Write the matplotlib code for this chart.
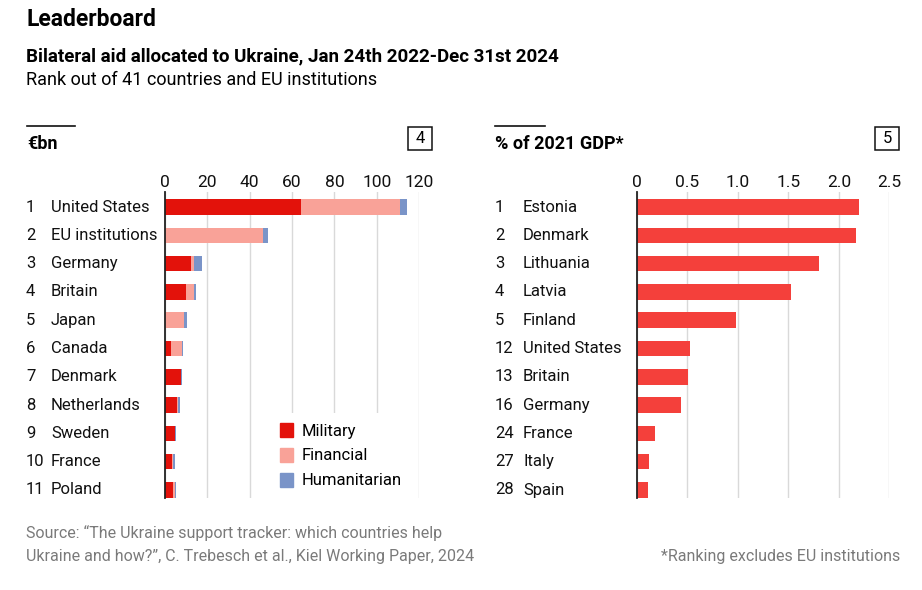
import matplotlib
matplotlib.use("Agg")
import matplotlib.pyplot as plt
import matplotlib.transforms as mtrans
from matplotlib.patches import Rectangle, Patch

plt.rcParams['font.family'] = ['Roboto', 'DejaVu Sans']

# ---------------- data ----------------
left_ranks = ["1", "2", "3", "4", "5", "6", "7", "8", "9", "10", "11"]
left_names = ["United States", "EU institutions", "Germany", "Britain", "Japan",
              "Canada", "Denmark", "Netherlands", "Sweden", "France", "Poland"]
military = [64.1, 0.0, 12.6, 9.9, 0.0, 2.8, 7.6, 5.8, 4.9, 3.5, 3.7]
financial = [46.7, 46.5, 1.4, 3.8, 9.1, 5.3, 0.2, 0.7, 0.1, 0.6, 1.2]
humanitarian = [3.4, 2.3, 3.4, 1.1, 1.4, 0.3, 0.2, 0.6, 0.2, 0.6, 0.3]
left_ticks = [0, 20, 40, 60, 80, 100, 120]

right_ranks = ["1", "2", "3", "4", "5", "12", "13", "16", "24", "27", "28"]
right_names = ["Estonia", "Denmark", "Lithuania", "Latvia", "Finland",
               "United States", "Britain", "Germany", "France", "Italy", "Spain"]
gdp_share = [2.20, 2.17, 1.80, 1.53, 0.98, 0.53, 0.51, 0.44, 0.18, 0.12, 0.11]
right_ticks = [0, 0.5, 1.0, 1.5, 2.0, 2.5]
right_ticklabels = ["0", "0.5", "1.0", "1.5", "2.0", "2.5"]

# ---------------- styles ----------------
C_MIL = "#e3120b"
C_FIN = "#f9a298"
C_HUM = "#7a94c8"
C_GDP = "#f4403b"
GRID = "#d9d9d9"
GREY = "#7a7a7a"
LBL = 12

W, H = 922, 590
fig = plt.figure(figsize=(W / 100, H / 100), dpi=100)


def fx(x):
    return x / W


def fy(y):
    return 1 - y / H


def add_axes_px(x0, x1, y0, y1):
    return fig.add_axes([fx(x0), fy(y1), fx(x1) - fx(x0), (y1 - y0) / H])


ROW0, ROWSTEP = 207, 28.3
AX_TOP, AX_BOT = 192, 498
ylim = ((AX_BOT - ROW0) / ROWSTEP, (AX_TOP - ROW0) / ROWSTEP)
BAR_H = 0.55


def style_axes(ax, ticks, ticklabels, xmax):
    ax.set_xlim(0, xmax)
    ax.set_ylim(*ylim)
    ax.set_xticks(ticks)
    ax.set_xticklabels(ticklabels)
    ax.xaxis.tick_top()
    ax.tick_params(axis='x', length=0, labelsize=12.5, pad=1.5, colors="#111111")
    ax.set_yticks([])
    for s in ["top", "right", "bottom"]:
        ax.spines[s].set_visible(False)
    ax.spines["left"].set_color("#222222")
    ax.spines["left"].set_linewidth(1.3)
    ax.spines["left"].set_zorder(5)
    ax.grid(axis='x', color=GRID, linewidth=1.0)
    ax.set_axisbelow(True)


# ---------------- left chart ----------------
axL = add_axes_px(164.7, 419.3, AX_TOP, AX_BOT)
ypos = list(range(len(left_names)))
fin_left = [m for m in military]
hum_left = [m + f for m, f in zip(military, financial)]
axL.barh(ypos, military, height=BAR_H, color=C_MIL, label="Military")
axL.barh(ypos, financial, left=fin_left, height=BAR_H, color=C_FIN, label="Financial")
axL.barh(ypos, humanitarian, left=hum_left, height=BAR_H, color=C_HUM, label="Humanitarian")
style_axes(axL, left_ticks, [str(t) for t in left_ticks], 120)

tL = mtrans.blended_transform_factory(fig.transFigure, axL.transData)
for i, (r, n) in enumerate(zip(left_ranks, left_names)):
    axL.text(fx(26), i, r, transform=tL, ha='left', va='center', fontsize=LBL, color="#111111")
    axL.text(fx(51), i, n, transform=tL, ha='left', va='center', fontsize=LBL, color="#111111")

leg = axL.legend(handles=[Patch(color=C_MIL), Patch(color=C_FIN), Patch(color=C_HUM)],
                 labels=["Military", "Financial", "Humanitarian"],
                 loc='upper left', bbox_to_anchor=(fx(275), fy(418)),
                 bbox_transform=fig.transFigure, frameon=True, fontsize=LBL,
                 handlelength=0.75, handleheight=0.9, handletextpad=0.55,
                 labelspacing=0.55, borderpad=0.3, borderaxespad=0)
leg.get_frame().set_facecolor("white")
leg.get_frame().set_edgecolor("none")
leg.get_frame().set_alpha(1)
leg.get_frame().set_boxstyle("square", pad=0.3)

# ---------------- right chart ----------------
axR = add_axes_px(637, 889.3, AX_TOP, AX_BOT)
axR.barh(ypos, gdp_share, height=BAR_H, color=C_GDP)
style_axes(axR, right_ticks, right_ticklabels, 2.5)
tR = mtrans.blended_transform_factory(fig.transFigure, axR.transData)
for i, (r, n) in enumerate(zip(right_ranks, right_names)):
    axR.text(fx(495), i, r, transform=tR, ha='left', va='center', fontsize=LBL, color="#111111")
    axR.text(fx(523), i, n, transform=tR, ha='left', va='center', fontsize=LBL, color="#111111")

# ---------------- titles ----------------
fig.text(fx(26), fy(19), "Leaderboard", fontsize=16.5, fontweight='bold', va='center', ha='left')
fig.text(fx(26), fy(56), "Bilateral aid allocated to Ukraine, Jan 24th 2022-Dec 31st 2024",
         fontsize=13.5, fontweight='bold', va='center', ha='left')
fig.text(fx(26), fy(80), "Rank out of 41 countries and EU institutions",
         fontsize=13, va='center', ha='left')

# panel headers
for x0, x1, label in [(27, 75, "€bn"), (495, 545, "% of 2021 GDP*")]:
    fig.add_artist(plt.Line2D([fx(x0), fx(x1)], [fy(126), fy(126)], color="#111111", lw=1.2))
    fig.text(fx(x0), fy(144), label, fontsize=13, fontweight='bold', va='center', ha='left')

for bx, num in [(408, "4"), (875, "5")]:
    fig.add_artist(Rectangle((fx(bx), fy(150)), 24 / W, 23 / H, transform=fig.transFigure,
                             facecolor='white', edgecolor='#111111', lw=1.1))
    fig.text(fx(bx + 12), fy(138.5), num, fontsize=12, va='center', ha='center')

# ---------------- footer ----------------
fig.text(fx(26), fy(533), "Source: \u201cThe Ukraine support tracker: which countries help",
         fontsize=11.5, color=GREY, va='center', ha='left')
fig.text(fx(26), fy(557), "Ukraine and how?\u201d, C. Trebesch et al., Kiel Working Paper, 2024",
         fontsize=11.5, color=GREY, va='center', ha='left')
fig.text(fx(900), fy(557), "*Ranking excludes EU institutions",
         fontsize=11.5, color=GREY, va='center', ha='right')

fig.savefig("out.png", dpi=100, facecolor='white')
